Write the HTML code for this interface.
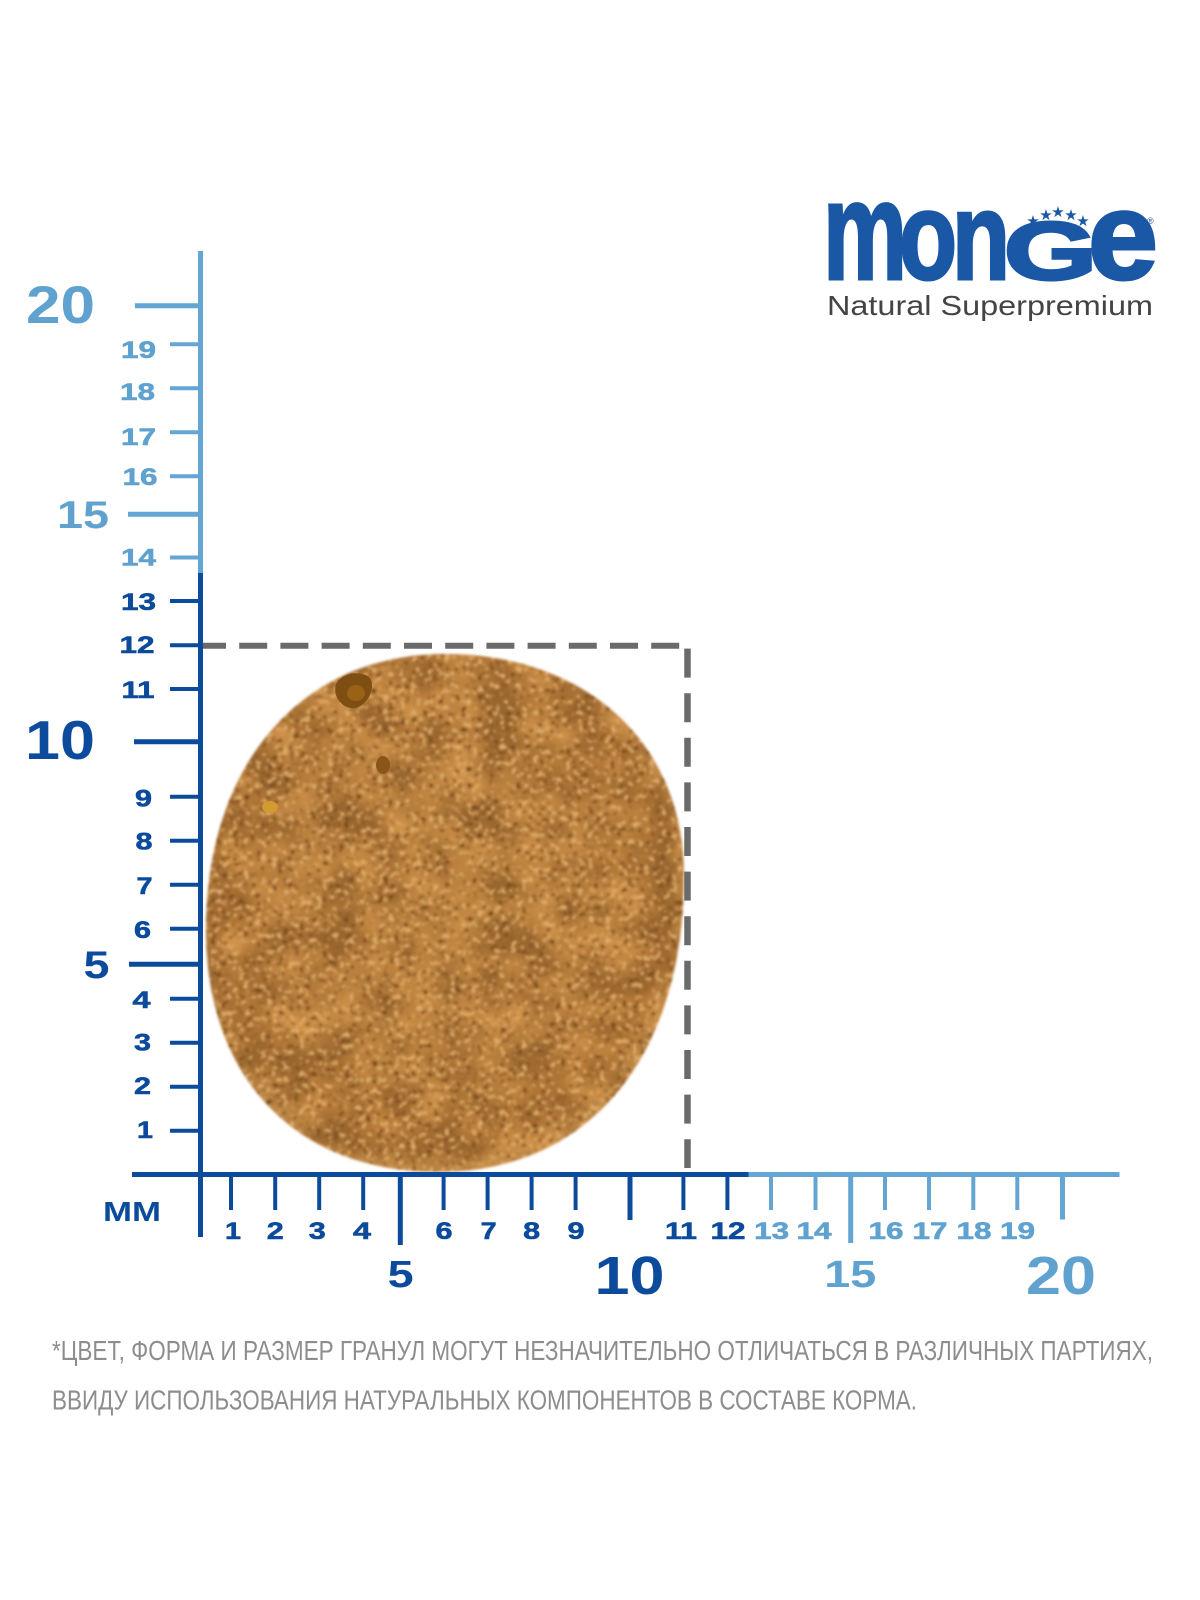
<!DOCTYPE html>
<html>
<head>
<meta charset="utf-8">
<style>
  html,body{margin:0;padding:0;background:#ffffff;}
  svg{display:block;}
  .b{font-family:"Liberation Sans",Arial,sans-serif;font-weight:bold;}
  .r{font-family:"Liberation Sans",Arial,sans-serif;font-weight:normal;}
</style>
</head>
<body>
<svg width="1200" height="1600" viewBox="0 0 1200 1600" xmlns="http://www.w3.org/2000/svg">
  <defs>
    <radialGradient id="cg" cx="0.48" cy="0.47" r="0.55">
      <stop offset="0" stop-color="#bd833f"/>
      <stop offset="0.6" stop-color="#b87e3c"/>
      <stop offset="0.88" stop-color="#b07636"/>
      <stop offset="1" stop-color="#c9934f"/>
    </radialGradient>
    <filter id="tex" x="0" y="0" width="1" height="1" color-interpolation-filters="sRGB">
      <feTurbulence type="fractalNoise" baseFrequency="0.18" numOctaves="3" seed="5" result="t"/>
      <feColorMatrix in="t" type="matrix" values="0 0 0 0 0.88  0 0 0 0 0.68  0 0 0 0 0.42  9 0 0 0 -5.4" result="lt"/>
      <feComposite in="lt" in2="SourceGraphic" operator="in" result="lt2"/>
      <feColorMatrix in="t" type="matrix" values="0 0 0 0 0.45  0 0 0 0 0.27  0 0 0 0 0.10  -9 0 0 0 3.2" result="dk"/>
      <feComposite in="dk" in2="SourceGraphic" operator="in" result="dk2"/>
      <feTurbulence type="fractalNoise" baseFrequency="0.025" numOctaves="2" seed="11" result="t2"/>
      <feColorMatrix in="t2" type="matrix" values="0 0 0 0 0.60  0 0 0 0 0.40  0 0 0 0 0.18  -4 0 0 0 2.1" result="bl"/>
      <feComposite in="bl" in2="SourceGraphic" operator="in" result="bl2"/>
      <feColorMatrix in="t2" type="matrix" values="0 0 0 0 0.82  0 0 0 0 0.58  0 0 0 0 0.30  4 0 0 0 -2.2" result="hl"/>
      <feComposite in="hl" in2="SourceGraphic" operator="in" result="hl2"/>
      <feMerge>
        <feMergeNode in="SourceGraphic"/>
        <feMergeNode in="bl2"/>
        <feMergeNode in="hl2"/>
        <feMergeNode in="dk2"/>
        <feMergeNode in="lt2"/>
      </feMerge>
    </filter>
    <filter id="soft" x="-5%" y="-5%" width="110%" height="110%">
      <feGaussianBlur stdDeviation="1.2"/>
    </filter>
  </defs>

  <!-- Logo -->
  <g fill="#1a57a5" stroke="#1a57a5" stroke-width="3" class="b">
    <text x="823" y="279" font-size="140" textLength="84" lengthAdjust="spacingAndGlyphs">m</text>
    <text x="899" y="279" font-size="124" textLength="58" lengthAdjust="spacingAndGlyphs">o</text>
    <text x="952" y="279" font-size="124" textLength="58" lengthAdjust="spacingAndGlyphs">n</text>
    <text x="1004" y="279" font-size="82" textLength="93" lengthAdjust="spacingAndGlyphs">G</text>
    <text x="1088" y="279" font-size="124" textLength="70" lengthAdjust="spacingAndGlyphs">e</text>
  </g>
  <g fill="#1a57a5" class="r" font-size="15" text-anchor="middle">
    <text x="1033" y="226">★</text>
    <text x="1046" y="220">★</text>
    <text x="1058" y="217">★</text>
    <text x="1071" y="220">★</text>
    <text x="1083" y="226">★</text>
  </g>
  <text x="1147" y="224" class="r" font-size="9" fill="#1a57a5">®</text>
  <text x="827" y="315" class="r" font-size="28" fill="#444444" textLength="326" lengthAdjust="spacingAndGlyphs">Natural Superpremium</text>

  <!-- Cookie -->
  <g filter="url(#soft)">
    <path d="M445,654 C588,654 684,745 684,875 C684,1056 590,1172 438,1172 C296,1172 206,1078 206,930 C206,764 302,654 445,654 Z" fill="url(#cg)" filter="url(#tex)"/>
  </g>
  <path d="M336,684 C342,672 362,670 370,678 C376,688 368,704 356,708 C344,710 332,698 336,684 Z" fill="#7e4e12"/>
  <ellipse cx="356" cy="693" rx="9" ry="8" fill="#9a6217"/>
  <ellipse cx="383" cy="765" rx="7" ry="9" fill="#8a5618"/>
  <ellipse cx="270" cy="807" rx="8" ry="6" fill="#d39a30"/>

  <!-- Dashed box -->
  <line x1="203" y1="645.7" x2="690" y2="645.7" stroke="#6a6a6a" stroke-width="6" stroke-dasharray="28 13.2" stroke-dashoffset="5"/>
  <line x1="687.5" y1="648.6" x2="687.5" y2="1168" stroke="#6a6a6a" stroke-width="6.5" stroke-dasharray="29 15.6"/>

  <!-- Axes -->
  <rect x="198" y="251" width="5" height="322" fill="#64a5d3"/>
  <rect x="198" y="573" width="5" height="664" fill="#0c4b9c"/>
  <rect x="132" y="1172" width="617" height="5" fill="#0c4b9c"/>
  <rect x="748.5" y="1172" width="371" height="5" fill="#64a5d3"/>

  <!-- Vertical ticks -->
  <g stroke="#0c4b9c" stroke-width="4">
    <line x1="170" y1="1130.7" x2="200" y2="1130.7"/>
    <line x1="170" y1="1086.7" x2="200" y2="1086.7"/>
    <line x1="170" y1="1042.7" x2="200" y2="1042.7"/>
    <line x1="170" y1="998.7" x2="200" y2="998.7"/>
    <line x1="170" y1="928.7" x2="200" y2="928.7"/>
    <line x1="170" y1="884.7" x2="200" y2="884.7"/>
    <line x1="170" y1="840.7" x2="200" y2="840.7"/>
    <line x1="170" y1="796.7" x2="200" y2="796.7"/>
    <line x1="170" y1="689" x2="200" y2="689"/>
    <line x1="170" y1="645.3" x2="200" y2="645.3"/>
    <line x1="170" y1="601" x2="200" y2="601"/>
  </g>
  <g stroke="#0c4b9c" stroke-width="5">
    <line x1="129" y1="964.3" x2="200" y2="964.3"/>
    <line x1="134" y1="741.7" x2="200" y2="741.7"/>
  </g>
  <g stroke="#64a5d3" stroke-width="4">
    <line x1="170" y1="557.5" x2="200" y2="557.5"/>
    <line x1="170" y1="476.3" x2="200" y2="476.3"/>
    <line x1="170" y1="432.3" x2="200" y2="432.3"/>
    <line x1="170" y1="388.3" x2="200" y2="388.3"/>
    <line x1="170" y1="344.3" x2="200" y2="344.3"/>
  </g>
  <g stroke="#64a5d3" stroke-width="5">
    <line x1="128" y1="514.3" x2="200" y2="514.3"/>
    <line x1="135" y1="305.7" x2="200" y2="305.7"/>
  </g>

  <!-- Horizontal ticks -->
  <g stroke="#0c4b9c" stroke-width="4">
    <line x1="231" y1="1174" x2="231" y2="1210"/>
    <line x1="275.2" y1="1174" x2="275.2" y2="1210"/>
    <line x1="319.2" y1="1174" x2="319.2" y2="1210"/>
    <line x1="363.2" y1="1174" x2="363.2" y2="1210"/>
    <line x1="443.6" y1="1174" x2="443.6" y2="1210"/>
    <line x1="487.6" y1="1174" x2="487.6" y2="1210"/>
    <line x1="531.6" y1="1174" x2="531.6" y2="1210"/>
    <line x1="575.6" y1="1174" x2="575.6" y2="1210"/>
    <line x1="683.4" y1="1174" x2="683.4" y2="1210"/>
    <line x1="727.4" y1="1174" x2="727.4" y2="1210"/>
  </g>
  <g stroke="#0c4b9c" stroke-width="5">
    <line x1="400.3" y1="1174" x2="400.3" y2="1245"/>
    <line x1="630" y1="1174" x2="630" y2="1220"/>
  </g>
  <g stroke="#64a5d3" stroke-width="4">
    <line x1="771" y1="1174" x2="771" y2="1210"/>
    <line x1="815.5" y1="1174" x2="815.5" y2="1210"/>
    <line x1="885" y1="1174" x2="885" y2="1210"/>
    <line x1="929" y1="1174" x2="929" y2="1210"/>
    <line x1="973.3" y1="1174" x2="973.3" y2="1210"/>
    <line x1="1017.3" y1="1174" x2="1017.3" y2="1210"/>
  </g>
  <g stroke="#64a5d3" stroke-width="5">
    <line x1="850.7" y1="1174" x2="850.7" y2="1243"/>
    <line x1="1062.5" y1="1174" x2="1062.5" y2="1219.5"/>
  </g>

  <!-- Vertical labels small -->
  <g class="b" font-size="24.5" fill="#0c4b9c" stroke="#0c4b9c" stroke-width="0.6">
    <text x="137" y="1137.8" textLength="16" lengthAdjust="spacingAndGlyphs">1</text>
    <text x="134" y="1093.8" textLength="17" lengthAdjust="spacingAndGlyphs">2</text>
    <text x="134" y="1050.5" textLength="17" lengthAdjust="spacingAndGlyphs">3</text>
    <text x="132.5" y="1007.8" textLength="18" lengthAdjust="spacingAndGlyphs">4</text>
    <text x="134" y="937.8" textLength="17" lengthAdjust="spacingAndGlyphs">6</text>
    <text x="136.5" y="893.8" textLength="16" lengthAdjust="spacingAndGlyphs">7</text>
    <text x="135.5" y="849.3" textLength="17" lengthAdjust="spacingAndGlyphs">8</text>
    <text x="135" y="806.3" textLength="17" lengthAdjust="spacingAndGlyphs">9</text>
    <text x="121.5" y="697.8" textLength="33" lengthAdjust="spacingAndGlyphs">11</text>
    <text x="119.5" y="652.8" textLength="35" lengthAdjust="spacingAndGlyphs">12</text>
    <text x="121" y="610" textLength="35" lengthAdjust="spacingAndGlyphs">13</text>
  </g>
  <g class="b" font-size="24.5" fill="#5fa2cf" stroke="#5fa2cf" stroke-width="0.6">
    <text x="121" y="565.3" textLength="35" lengthAdjust="spacingAndGlyphs">14</text>
    <text x="122.5" y="485.1" textLength="35" lengthAdjust="spacingAndGlyphs">16</text>
    <text x="121" y="444.8" textLength="35" lengthAdjust="spacingAndGlyphs">17</text>
    <text x="120" y="399.8" textLength="35" lengthAdjust="spacingAndGlyphs">18</text>
    <text x="121" y="357.8" textLength="35" lengthAdjust="spacingAndGlyphs">19</text>
  </g>
  <!-- Vertical labels big -->
  <text x="26" y="323" class="b" font-size="53" fill="#5fa2cf" textLength="69" lengthAdjust="spacingAndGlyphs">20</text>
  <text x="57" y="528" class="b" font-size="39" fill="#5fa2cf" textLength="52" lengthAdjust="spacingAndGlyphs">15</text>
  <text x="25" y="759" class="b" font-size="55" fill="#0c4b9c" textLength="70" lengthAdjust="spacingAndGlyphs">10</text>
  <text x="83.5" y="978" class="b" font-size="39" fill="#0c4b9c" textLength="26" lengthAdjust="spacingAndGlyphs">5</text>

  <!-- MM -->
  <text x="103" y="1221" class="b" font-size="28" fill="#0c4b9c" textLength="58" lengthAdjust="spacingAndGlyphs">MM</text>

  <!-- Horizontal labels small -->
  <g class="b" font-size="24.5" fill="#0c4b9c" stroke="#0c4b9c" stroke-width="0.6">
    <text x="225" y="1238.8" textLength="16" lengthAdjust="spacingAndGlyphs">1</text>
    <text x="266.8" y="1238.8" textLength="17" lengthAdjust="spacingAndGlyphs">2</text>
    <text x="308.8" y="1238.8" textLength="17" lengthAdjust="spacingAndGlyphs">3</text>
    <text x="353" y="1238.8" textLength="18" lengthAdjust="spacingAndGlyphs">4</text>
    <text x="435.5" y="1238.8" textLength="17" lengthAdjust="spacingAndGlyphs">6</text>
    <text x="480.6" y="1238.8" textLength="16" lengthAdjust="spacingAndGlyphs">7</text>
    <text x="523.1" y="1238.8" textLength="17" lengthAdjust="spacingAndGlyphs">8</text>
    <text x="567.5" y="1238.8" textLength="17" lengthAdjust="spacingAndGlyphs">9</text>
    <text x="665" y="1239" textLength="32" lengthAdjust="spacingAndGlyphs">11</text>
    <text x="710.5" y="1239" textLength="35" lengthAdjust="spacingAndGlyphs">12</text>
  </g>
  <g class="b" font-size="24.5" fill="#5fa2cf" stroke="#5fa2cf" stroke-width="0.6">
    <text x="754.2" y="1239" textLength="35" lengthAdjust="spacingAndGlyphs">13</text>
    <text x="796.5" y="1239" textLength="35" lengthAdjust="spacingAndGlyphs">14</text>
    <text x="868.5" y="1239" textLength="35" lengthAdjust="spacingAndGlyphs">16</text>
    <text x="912.5" y="1239" textLength="35" lengthAdjust="spacingAndGlyphs">17</text>
    <text x="956.5" y="1239" textLength="35" lengthAdjust="spacingAndGlyphs">18</text>
    <text x="1000" y="1239" textLength="35" lengthAdjust="spacingAndGlyphs">19</text>
  </g>
  <!-- Horizontal labels big -->
  <text x="387.7" y="1287" class="b" font-size="38" fill="#0c4b9c" textLength="26" lengthAdjust="spacingAndGlyphs">5</text>
  <text x="594.5" y="1294" class="b" font-size="54" fill="#0c4b9c" textLength="70" lengthAdjust="spacingAndGlyphs">10</text>
  <text x="824.3" y="1287" class="b" font-size="38" fill="#5fa2cf" textLength="52" lengthAdjust="spacingAndGlyphs">15</text>
  <text x="1026" y="1294" class="b" font-size="54" fill="#5fa2cf" textLength="70" lengthAdjust="spacingAndGlyphs">20</text>

  <!-- Footer -->
  <text x="52" y="1360" class="r" font-size="28" fill="#8d8d8d" textLength="1101" lengthAdjust="spacingAndGlyphs">*ЦВЕТ, ФОРМА И РАЗМЕР ГРАНУЛ МОГУТ НЕЗНАЧИТЕЛЬНО ОТЛИЧАТЬСЯ В РАЗЛИЧНЫХ ПАРТИЯХ,</text>
  <text x="52" y="1409.3" class="r" font-size="28" fill="#8d8d8d" textLength="865" lengthAdjust="spacingAndGlyphs">ВВИДУ ИСПОЛЬЗОВАНИЯ НАТУРАЛЬНЫХ КОМПОНЕНТОВ В СОСТАВЕ КОРМА.</text>
</svg>
</body>
</html>
